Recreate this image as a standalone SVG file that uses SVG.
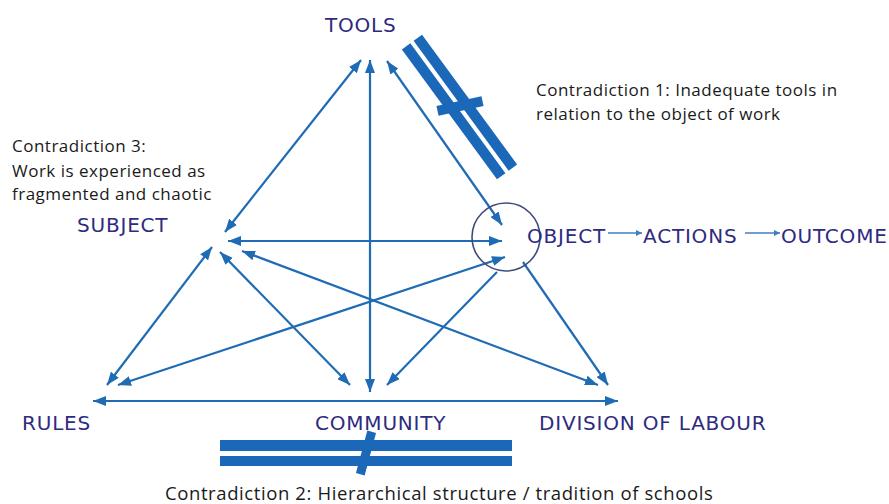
<svg xmlns="http://www.w3.org/2000/svg" width="889" height="504" viewBox="0 0 889 504">
<style>
.lbl{font-family:"DejaVu Sans",sans-serif;font-size:20px;fill:#2e2b80;letter-spacing:0.8px}
.note{font-family:"Open Sans","Liberation Sans",sans-serif;font-size:17px;fill:#1a1a1a;letter-spacing:0.5px}
.big{font-size:18.5px;letter-spacing:0.6px}
.c{fill:none;stroke:#1f6cb4;stroke-width:2.2}
.thin{fill:none;stroke:#3c7fc4;stroke-width:1.3}
.bar{fill:#1b67b8}
</style>
<defs>
<marker id="ah" viewBox="0 0 13 10" refX="13" refY="5" markerWidth="13" markerHeight="10" markerUnits="userSpaceOnUse" orient="auto-start-reverse">
<path d="M0,0 L13,5 L0,10 z" fill="#1f6cb4"/>
</marker>
<marker id="sh" viewBox="0 0 6 6" refX="6" refY="3" markerWidth="6" markerHeight="6" markerUnits="userSpaceOnUse" orient="auto">
<path d="M0,0 L6,3 L0,6 z" fill="#3c7fc4"/>
</marker>
</defs>
<rect width="889" height="504" fill="#ffffff"/>

<g id="connectors">
<line class="c" x1="361" y1="60" x2="225" y2="232" marker-start="url(#ah)" marker-end="url(#ah)"/>
<line class="c" x1="370" y1="60" x2="370" y2="392" marker-start="url(#ah)" marker-end="url(#ah)"/>
<line class="c" x1="387" y1="61" x2="502" y2="225" marker-start="url(#ah)" marker-end="url(#ah)"/>
<line class="c" x1="228" y1="241" x2="502" y2="241" marker-start="url(#ah)" marker-end="url(#ah)"/>
<line class="c" x1="212" y1="247" x2="107" y2="385" marker-start="url(#ah)" marker-end="url(#ah)"/>
<line class="c" x1="220" y1="252" x2="350" y2="385" marker-start="url(#ah)" marker-end="url(#ah)"/>
<line class="c" x1="242" y1="251" x2="598" y2="385" marker-start="url(#ah)" marker-end="url(#ah)"/>
<line class="c" x1="505" y1="257" x2="118" y2="385" marker-start="url(#ah)" marker-end="url(#ah)"/>
<line class="c" x1="497" y1="272" x2="387" y2="385" marker-end="url(#ah)"/>
<line class="c" x1="523" y1="262" x2="608" y2="385" marker-end="url(#ah)"/>
<line class="c" x1="93" y1="401" x2="618" y2="401" marker-start="url(#ah)" marker-end="url(#ah)"/>
<line class="thin" x1="608" y1="233" x2="642" y2="233" marker-end="url(#sh)"/>
<line class="thin" x1="745" y1="233" x2="780" y2="233" marker-end="url(#sh)"/>
</g>

<g id="tools"><text class="lbl" x="325" y="32">TOOLS</text></g>
<g id="subject"><text class="lbl" x="77" y="232">SUBJECT</text></g>
<g id="object">
<circle cx="506" cy="237" r="34" fill="none" stroke="#404b7c" stroke-width="1.6"/>
<text class="lbl" x="527" y="243">OBJECT</text>
</g>
<g id="actions"><text class="lbl" x="643" y="243">ACTIONS</text></g>
<g id="outcome"><text class="lbl" x="781" y="243">OUTCOME</text></g>
<g id="rules"><text class="lbl" x="22" y="430">RULES</text></g>
<g id="community"><text class="lbl" x="315" y="430">COMMUNITY</text></g>
<g id="division"><text class="lbl" x="539" y="430">DIVISION OF LABOUR</text></g>

<g id="contradiction1">
<g transform="translate(459.5,107) rotate(53.8)">
<rect class="bar" x="-80.5" y="-12.5" width="161" height="10.5"/>
<rect class="bar" x="-80.5" y="2" width="161" height="10.5"/>
</g>
<rect class="bar" x="-23" y="-5" width="46" height="10" transform="translate(460,106) rotate(-12)"/>
<text class="note" x="536" y="96">Contradiction 1: Inadequate tools in</text>
<text class="note" x="536" y="120">relation to the object of work</text>
</g>

<g id="contradiction2">
<rect class="bar" x="220" y="440" width="292" height="11"/>
<rect class="bar" x="220" y="456" width="292" height="10"/>
<rect class="bar" x="-4.5" y="-22" width="9" height="44" transform="translate(366,453) rotate(15)"/>
<text class="note big" x="165" y="500">Contradiction 2: Hierarchical structure / tradition of schools</text>
</g>

<g id="contradiction3">
<text class="note" x="12" y="152">Contradiction 3:</text>
<text class="note" x="12" y="177">Work is experienced as</text>
<text class="note" x="12" y="200">fragmented and chaotic</text>
</g>
</svg>
